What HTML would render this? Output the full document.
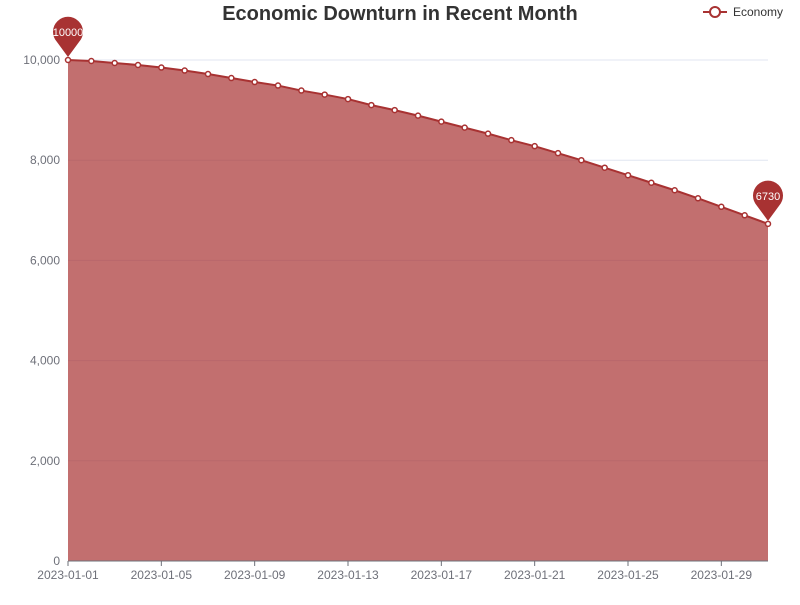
<!DOCTYPE html>
<html><head><meta charset="utf-8"><style>
body{margin:0;background:#fff;font-family:"Liberation Sans",sans-serif;}
svg text{font-family:"Liberation Sans",sans-serif;}
</style></head><body>
<svg id="chart" width="800" height="600" xmlns="http://www.w3.org/2000/svg">
<text x="400" y="20" text-anchor="middle" font-size="20" font-weight="bold" fill="#333">Economic Downturn in Recent Month</text>
<g>
<line x1="703" y1="12" x2="727" y2="12" stroke="#a83232" stroke-width="2"/>
<circle cx="715" cy="12" r="5" fill="#fff" stroke="#a83232" stroke-width="2"/>
<text x="733" y="16" font-size="12" fill="#333">Economy</text>
</g>
<g id="grid"></g><g id="series"></g><g id="axes"></g><g id="pins"></g>
</svg>
<script>
const categories = [];
for (let d = 1; d <= 31; d++) categories.push('2023-01-' + String(d).padStart(2, '0'));
const values = [10000,9980,9940,9900,9850,9790,9720,9640,9560,9490,9390,9310,9220,9100,9000,8890,8770,8650,8530,8400,8280,8140,8000,7850,7700,7550,7400,7240,7070,6900,6730];
const yTicks = [0,2000,4000,6000,8000,10000];
const yTickLabels = ['0','2,000','4,000','6,000','8,000','10,000'];

const NS = 'http://www.w3.org/2000/svg';
const X0 = 68, X1 = 768, Y0 = 561, Y1 = 60, YMAX = 10000;
function xs(i){ return X0 + (X1 - X0) * i / (categories.length - 1); }
function ys(v){ return Y0 - (Y0 - Y1) * v / YMAX; }
function mk(tag, attrs, parent){ const e = document.createElementNS(NS, tag); for (const k in attrs) e.setAttribute(k, attrs[k]); parent.appendChild(e); return e; }

const grid = document.getElementById('grid');
const axes = document.getElementById('axes');
yTicks.forEach((t, i) => {
  const y = ys(t);
  const l = mk('line', {x1: X0, x2: X1, y1: y, y2: y, stroke: '#e0e6f1', 'stroke-width': 1}, grid);
  
  
  const tx = mk('text', {x: X0 - 8, y: y + 4, 'text-anchor': 'end', 'font-size': 12, fill: '#6e7079'}, axes);
  tx.textContent = yTickLabels[i];
  
  
});
const ax = mk('line', {x1: X0, x2: X1, y1: Y0, y2: Y0, stroke: '#6e7079', 'stroke-width': 1}, axes);


categories.forEach((c, i) => {
  if (i % 4 !== 0) return;
  const x = xs(i);
  const tk = mk('line', {x1: x, x2: x, y1: Y0, y2: Y0 + 5, stroke: '#6e7079'}, axes);
  
  
  const tx = mk('text', {x: x, y: Y0 + 18, 'text-anchor': 'middle', 'font-size': 12, fill: '#6e7079'}, axes);
  tx.textContent = c;
  
  
});

const series = document.getElementById('series');
let pts = values.map((v, i) => xs(i) + ',' + ys(v)).join(' L');
const area = mk('path', {d: 'M' + xs(0) + ',' + Y0 + ' L' + pts + ' L' + xs(values.length - 1) + ',' + Y0 + ' Z', fill: '#a83232', 'fill-opacity': 0.7}, series);


const line = mk('path', {d: 'M' + pts, fill: 'none', stroke: '#a83232', 'stroke-width': 2}, series);


values.forEach((v, i) => {
  const c = mk('circle', {cx: xs(i), cy: ys(v), r: 2.5, fill: '#fff', stroke: '#a83232', 'stroke-width': 1.5}, series);
  
  
});

const pins = document.getElementById('pins');
function pin(i, name){
  const x = xs(i), y = ys(values[i]);
  const g = mk('g', {}, pins);
  
  
  const cy = y - 28, r = 15;
  mk('path', {d: `M${x},${y-3} L${x-11},${cy+10} A${r},${r} 0 1 1 ${x+11},${cy+10} Z`, fill: '#a83232'}, g);
  const t = mk('text', {x: x, y: cy + 4, 'text-anchor': 'middle', 'font-size': 11, fill: '#fff'}, g);
  t.textContent = values[i];
}
let maxI = 0, minI = 0;
values.forEach((v, i) => { if (v > values[maxI]) maxI = i; if (v < values[minI]) minI = i; });
pin(maxI, 'max-marker');
pin(minI, 'min-marker');
</script>
</body></html>
